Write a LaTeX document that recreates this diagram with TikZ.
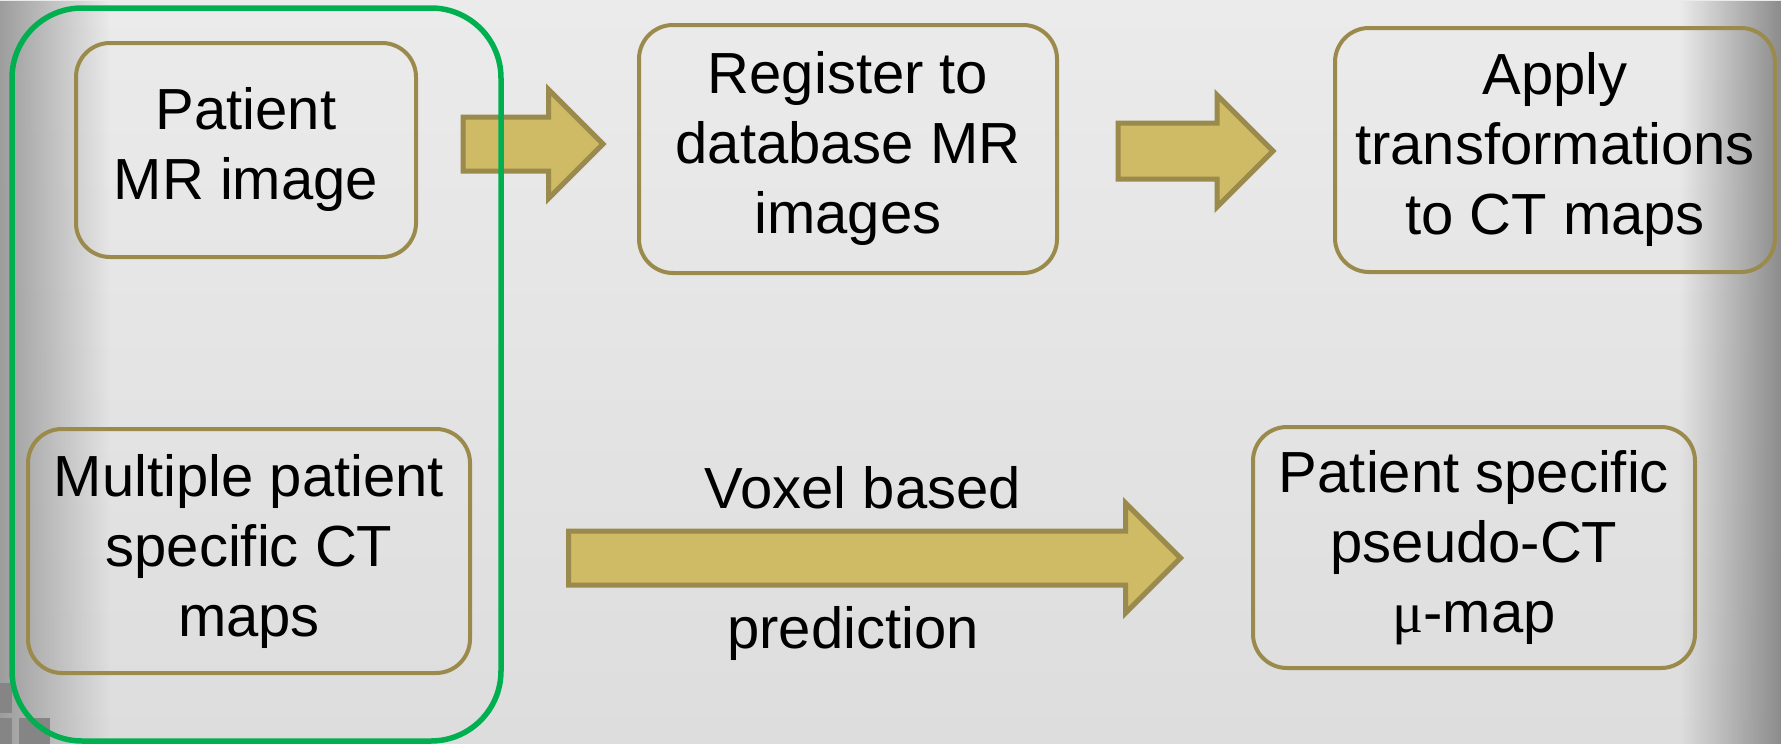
\documentclass[tikz,border=0pt]{standalone}
\usepackage{fontspec}
\setmainfont{Liberation Sans}
\newfontfamily\mufont{Liberation Serif}
\usepackage{xcolor}
\usepackage{tikz}
\usetikzlibrary{shapes.arrows, positioning, fadings}
\definecolor{boxline}{HTML}{9A8A4B}
\definecolor{arrowfill}{HTML}{CFBA66}
\definecolor{groupline}{HTML}{00B050}
\definecolor{bgtop}{HTML}{EBEBEB}
\definecolor{bgbottom}{HTML}{DDDDDD}
\definecolor{bgedge}{HTML}{8C8C8C}
\definecolor{tile}{HTML}{858585}
\tikzfading[name=fadeleft, left color=transparent!0, right color=transparent!100]
\tikzfading[name=faderight, left color=transparent!100, right color=transparent!0]
\tikzstyle{process} = [rectangle, rounded corners=34pt, draw=boxline, line width=4pt, align=center, font=\fontsize{58}{70}\selectfont]
\tikzstyle{groupbox} = [rectangle, rounded corners=70pt, draw=groupline, line width=5.5pt]
\tikzstyle{blockarrow} = [single arrow, draw=boxline, fill=arrowfill, line width=5pt, inner xsep=0pt, minimum width=0pt, single arrow tip angle=90, anchor=tail]
\tikzstyle{arrowtext} = [font=\fontsize{58}{70}\selectfont, anchor=base]

\begin{document}
\begin{tikzpicture}[x=1pt, y=-1pt]
\useasboundingbox (0,0) rectangle (1781,744);
% slide background
\shade[top color=bgtop, bottom color=bgbottom] (0,0) rectangle (1781,744);
\fill[bgedge!85!white, path fading=fadeleft] (0,0) rectangle (110,744);
\fill[bgedge, path fading=faderight] (1680,0) rectangle (1781,744);
\fill[tile] (0,683) rectangle (12,713);
\fill[tile] (0,718) rectangle (12,744);
\fill[tile] (19,718) rectangle (50,744);

\node (mr) [process, minimum width=340pt, minimum height=214pt] at (246,150) {Patient\\MR image};
\node (register) [process, minimum width=418pt, minimum height=248pt] at (848,149) {Register to\\database MR\\images};
\node (apply) [process, minimum width=440pt, minimum height=244pt] at (1555,150) {Apply\\transformations\\to CT maps};
\node (ctmaps) [process, minimum width=442pt, minimum height=244pt] at (249,551) {Multiple patient\\specific CT\\maps};
\node (pseudo) [process, minimum width=442pt, minimum height=241pt] at (1474,547.5) {Patient specific\\pseudo-CT\\{\mufont μ}-map};

% block arrows between the steps
\node (toreg) [blockarrow, minimum height=140pt, inner ysep=24.5pt, single arrow head extend=27.5pt] at (460.5,144) {};
\node (toapply) [blockarrow, minimum height=155pt, inner ysep=25.5pt, single arrow head extend=28pt] at (1115.5,151) {};
\node (topseudo) [blockarrow, minimum height=612pt, inner ysep=24.5pt, single arrow head extend=28pt] at (566,558) {};
\node (voxel) [arrowtext] at (863,508) {Voxel based};
\node (predict) [arrowtext] at (853,648) {prediction};

% inputs
\node (inputs) [groupbox, minimum width=489pt, minimum height=733pt] at (256.5,374.5) {};
\end{tikzpicture}
\end{document}
